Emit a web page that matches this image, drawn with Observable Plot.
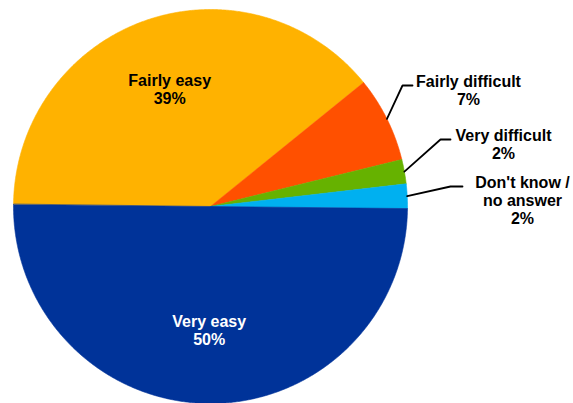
<!DOCTYPE html>
<html><head><meta charset="utf-8">
<script src="https://cdn.jsdelivr.net/npm/d3@7"></script>
<script src="https://cdn.jsdelivr.net/npm/@observablehq/plot@0.6"></script>
<style>body{margin:0;background:#fff} svg{display:block}</style>
</head><body><div id="chart"></div>
<script>
// ---- data ----
const categories = ["Fairly easy", "Fairly difficult", "Very difficult", "Don't know / no answer", "Very easy"];
const labelLines = ["Fairly easy", "Fairly difficult", "Very difficult", "Don't know /\nno answer", "Very easy"];
const values = [39, 7, 2, 2, 50];

// ---- styles / layout ----
const colors = ["#FFB200", "#FF5000", "#66B200", "#00B0F0", "#003399"];
const labelColors = ["#000", "#000", "#000", "#000", "#fff"];
const W = 573, H = 403;
const CX = 210, CY = 206, R = 197;
const startDeg = -89.4;
const insideRadius = 0.63;
// callouts for small slices: elbow offset, hook length, text centre (relative to pie centre, y up)
const calloutElbow = {"Fairly difficult": [192, 121], "Very difficult": [230, 67], "Don't know / no answer": [240, 20]};
const calloutHook = {"Fairly difficult": 10, "Very difficult": 10, "Don't know / no answer": 12};
const calloutText = {"Fairly difficult": [258, 116], "Very difficult": [293, 62], "Don't know / no answer": [312, 6]};

const data = categories.map((c, i) => ({key: c, value: values[i], label: `${labelLines[i]}\n${values[i]}%`, textColor: labelColors[i]}));
const a0 = startDeg * Math.PI / 180;
const arcs = d3.pie().sort(null).value(d => d.value).startAngle(a0).endAngle(a0 + 2 * Math.PI)(data);

const slicePts = [];
for (const a of arcs) {
  slicePts.push({key: a.data.key, x: 0, y: 0});
  const n = Math.max(2, Math.ceil((a.endAngle - a.startAngle) / (0.4 * Math.PI / 180)));
  for (let i = 0; i <= n; i++) {
    const t = a.startAngle + (a.endAngle - a.startAngle) * i / n;
    slicePts.push({key: a.data.key, x: R * Math.sin(t), y: R * Math.cos(t)});
  }
}

const textData = [];
const leaderPts = [];
for (const a of arcs) {
  const mid = (a.startAngle + a.endAngle) / 2;
  const k = a.data.key;
  if (calloutElbow[k]) {
    const [ex, ey] = calloutElbow[k];
    leaderPts.push({key: k, x: R * Math.sin(mid), y: R * Math.cos(mid)});
    leaderPts.push({key: k, x: ex, y: ey});
    leaderPts.push({key: k, x: ex + calloutHook[k], y: ey});
    const [tx, ty] = calloutText[k];
    textData.push({x: tx, y: ty, label: a.data.label, color: "#000"});
  } else {
    const r = insideRadius * R;
    textData.push({x: r * Math.sin(mid), y: r * Math.cos(mid), label: a.data.label, color: a.data.textColor});
  }
}

const chart = Plot.plot({
  width: W, height: H,
  margin: 0,
  x: {domain: [-CX, W - CX], axis: null},
  y: {domain: [-(H - CY), CY], axis: null},
  color: {domain: categories, range: colors},
  style: {background: "#fff"},
  marks: [
    Plot.line(slicePts, {x: "x", y: "y", z: "key", fill: "key", stroke: "key", strokeWidth: 0.6, curve: "linear-closed"}),
    Plot.line(leaderPts, {x: "x", y: "y", z: "key", stroke: "#000", strokeWidth: 1.8, strokeLinejoin: "miter"}),
    Plot.text(textData, {x: "x", y: "y", text: "label", fill: "color", fontSize: 16, fontWeight: "bold",
      fontFamily: "'Liberation Sans', Arial, sans-serif", textAnchor: "middle", lineAnchor: "middle", lineHeight: 1.125})
  ]
});
document.getElementById("chart").appendChild(chart);
</script>
</body></html>
